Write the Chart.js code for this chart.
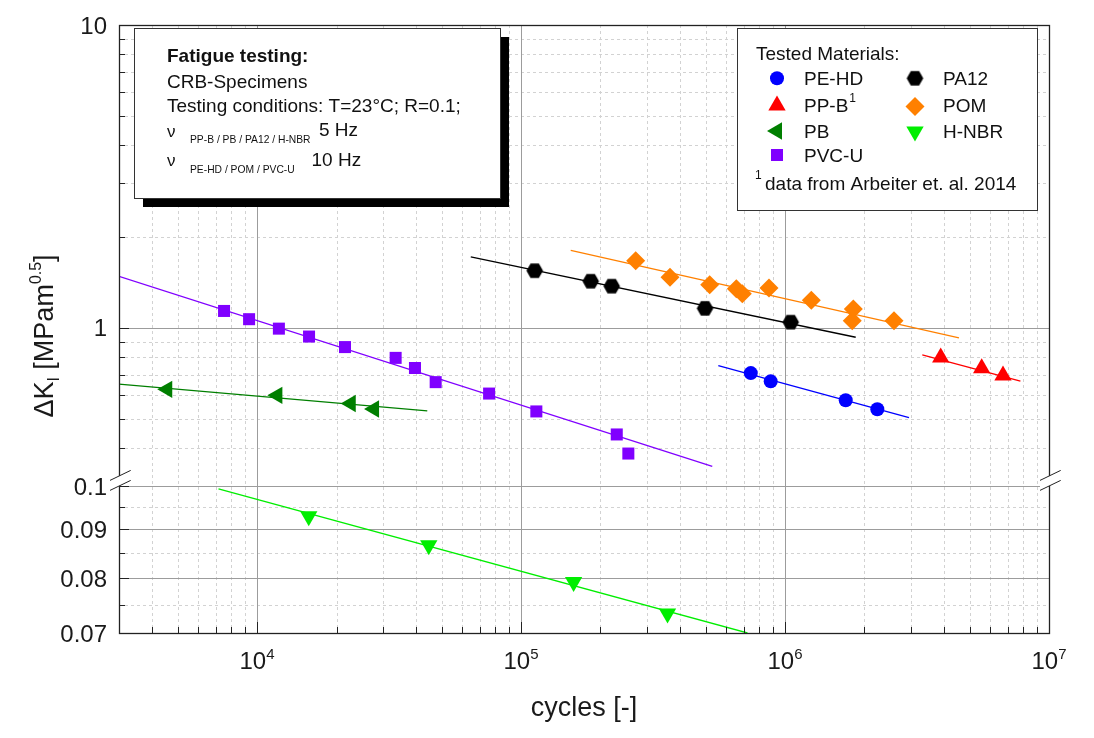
<!DOCTYPE html>
<html>
<head>
<meta charset="utf-8">
<script src="https://cdn.jsdelivr.net/npm/chart.js@4.4.1/dist/chart.umd.min.js"></script>
<style>
  html, body { margin: 0; padding: 0; background: #fff; }
  #wrap { width: 1094px; height: 738px; }
</style>
</head>
<body>
<div id="wrap"><canvas id="fatigue" width="1094" height="738"></canvas></div>
<script>
// measured points: cycles to failure vs. delta K_I
const peHdCycles = [741900, 882600, 1698000, 2237000];
const peHdDK = [0.708, 0.665, 0.576, 0.538];
const ppBCycles = [3889000, 5559000, 6695000];
const ppBDK = [0.797, 0.734, 0.695];
const pbCycles = [4571, 11940, 22650, 27750];
const pbDK = [0.626, 0.598, 0.562, 0.539];
const pvcCycles = [7500, 9330, 12100, 15740, 21540, 33500, 39650, 47500, 75700, 114300, 230500, 255000];
const pvcDK = [1.136, 1.067, 0.993, 0.935, 0.863, 0.795, 0.736, 0.661, 0.606, 0.529, 0.444, 0.384];
const pa12Cycles = [112700, 183700, 220600, 497700, 1051000];
const pa12DK = [1.543, 1.424, 1.372, 1.159, 1.043];
const pomCycles = [271900, 366700, 518500, 654000, 689000, 869700, 1258000, 1814000, 1798000, 2588000];
const pomDK = [1.663, 1.467, 1.387, 1.346, 1.296, 1.352, 1.233, 1.153, 1.054, 1.054];
const hnbrCycles = [15700, 44720, 158200, 358900];
const hnbrDK = [0.0929, 0.0866, 0.0792, 0.0734];

// power-law fit lines (start / end)
const peHdFitCycles = [558900, 2949000];
const peHdFitDK = [0.749, 0.505];
const ppBFitCycles = [3311000, 7794000];
const ppBFitDK = [0.813, 0.666];
const pbFitCycles = [3000, 44150];
const pbFitDK = [0.651, 0.531];
const pvcFitCycles = [3000, 530300];
const pvcFitDK = [1.478, 0.348];
const pa12FitCycles = [64500, 1853000];
const pa12FitDK = [1.713, 0.930];
const pomFitCycles = [154300, 4560000];
const pomFitDK = [1.801, 0.926];
const hnbrFitCycles = [7145, 720500];
const hnbrFitDK = [0.0993, 0.0700];

// axes
const xRange = [3000, 1e7];
const xTickExponents = [4, 5, 6, 7];
const yUpperRange = [0.3186, 10];
const yUpperTicks = [1, 10];
const yUpperTickLabels = ['1', '10'];
const yLowerRange = [0.07, 0.1];
const yLowerTicks = [0.07, 0.08, 0.09, 0.1];
const yLowerTickLabels = ['0.07', '0.08', '0.09', '0.1'];
const yLowerMinor = [0.075, 0.085, 0.095];
const panelWeights = [461, 147]; // upper, lower

const FONT = "'Liberation Sans', Arial, Helvetica, sans-serif";

function hexagon(r, color) {
  const c = document.createElement('canvas');
  const s = Math.ceil(2 * r) + 2;
  c.width = s; c.height = s;
  const g = c.getContext('2d');
  g.fillStyle = color;
  g.beginPath();
  for (let i = 0; i < 6; i++) {
    const t = Math.PI / 3 * i;
    const px = s / 2 + r * Math.cos(t), py = s / 2 + r * Math.sin(t);
    if (i) g.lineTo(px, py); else g.moveTo(px, py);
  }
  g.closePath();
  g.fill();
  return c;
}

const materials = [
  { label: 'PE-HD', x: peHdCycles, y: peHdDK, fx: peHdFitCycles, fy: peHdFitDK, axis: 'yUp', color: '#0000ff', style: 'circle', radius: 7, rot: 0 },
  { label: 'PP-B', x: ppBCycles, y: ppBDK, fx: ppBFitCycles, fy: ppBFitDK, axis: 'yUp', color: '#ff0000', style: 'triangle', radius: 10, rot: 0 },
  { label: 'PB', x: pbCycles, y: pbDK, fx: pbFitCycles, fy: pbFitDK, axis: 'yUp', color: '#007f00', style: 'triangle', radius: 10, rot: -90 },
  { label: 'PVC-U', x: pvcCycles, y: pvcDK, fx: pvcFitCycles, fy: pvcFitDK, axis: 'yUp', color: '#8000ff', style: 'rect', radius: 8.5, rot: 0 },
  { label: 'PA12', x: pa12Cycles, y: pa12DK, fx: pa12FitCycles, fy: pa12FitDK, axis: 'yUp', color: '#000000', style: hexagon(8.3, '#000000'), radius: 8, rot: 0 },
  { label: 'POM', x: pomCycles, y: pomDK, fx: pomFitCycles, fy: pomFitDK, axis: 'yUp', color: '#ff8000', style: 'rectRot', radius: 9.5, rot: 0 },
  { label: 'H-NBR', x: hnbrCycles, y: hnbrDK, fx: hnbrFitCycles, fy: hnbrFitDK, axis: 'yLow', color: '#00ee00', style: 'triangle', radius: 10, rot: 180 }
];

const datasets = [];
materials.forEach(m => {
  datasets.push({
    label: m.label,
    data: m.x.map((v, i) => ({ x: v, y: m.y[i] })),
    yAxisID: m.axis,
    showLine: false,
    pointStyle: m.style,
    pointRadius: m.radius,
    pointRotation: m.rot,
    pointBackgroundColor: m.color,
    pointBorderWidth: 0,
    order: 0
  });
  datasets.push({
    label: m.label + ' fit',
    data: m.fx.map((v, i) => ({ x: v, y: m.fy[i] })),
    yAxisID: m.axis,
    showLine: true,
    borderColor: m.color,
    borderWidth: 1.3,
    pointRadius: 0,
    order: 1
  });
});

const snap = v => Math.round(v) + 0.5;
function seg(ctx, x0, y0, x1, y1) {
  ctx.beginPath(); ctx.moveTo(x0, y0); ctx.lineTo(x1, y1); ctx.stroke();
}
function logMinors(min, max, skip) {
  const out = [];
  for (let e = Math.floor(Math.log10(min)); e <= Math.ceil(Math.log10(max)); e++) {
    for (let m = 1; m <= 9; m++) {
      const v = m * Math.pow(10, e);
      if (v >= min * 0.999 && v <= max * 1.001 && !skip.some(s => Math.abs(s - v) / v < 1e-6)) out.push(v);
    }
  }
  return out;
}
// draws runs of text one after another; returns width
function runs(ctx, parts, x, y, align) {
  let total = 0;
  parts.forEach(p => {
    ctx.font = (p.bold ? 'bold ' : '') + p.size + 'px ' + FONT;
    p.w = ctx.measureText(p.t).width;
    total += p.w;
  });
  let cx = align === 'center' ? x - total / 2 : x;
  ctx.textAlign = 'left';
  ctx.textBaseline = 'alphabetic';
  parts.forEach(p => {
    ctx.font = (p.bold ? 'bold ' : '') + p.size + 'px ' + FONT;
    ctx.fillText(p.t, cx, y + (p.dy || 0));
    cx += p.w;
  });
  return total;
}

const decor = {
  id: 'decor',
  afterLayout(chart) {
    // pin the two stacked value axes to the exact split of the plot height
    const a = chart.chartArea, yU = chart.scales.yUp, yL = chart.scales.yLow;
    const split = a.top + (a.bottom - a.top) * panelWeights[0] / (panelWeights[0] + panelWeights[1]);
    yU.top = a.top; yU.bottom = split; yU.height = split - a.top; yU.configure();
    yL.top = split; yL.bottom = a.bottom; yL.height = a.bottom - split; yL.configure();
  },
  beforeDatasetsDraw(chart) {
    const { ctx, chartArea: a, scales } = chart;
    const xs = scales.x, yU = scales.yUp, yL = scales.yLow;
    const xMajor = xTickExponents.map(e => Math.pow(10, e));
    ctx.save();
    ctx.lineWidth = 1;
    // minor grid
    ctx.strokeStyle = '#d2d2d2';
    ctx.setLineDash([3, 3]);
    logMinors(xRange[0], xRange[1], xMajor).forEach(v => {
      const p = snap(xs.getPixelForValue(v)); seg(ctx, p, a.top, p, a.bottom);
    });
    logMinors(yUpperRange[0], yUpperRange[1], yUpperTicks).forEach(v => {
      const p = snap(yU.getPixelForValue(v)); seg(ctx, a.left, p, a.right, p);
    });
    yLowerMinor.forEach(v => {
      const p = snap(yL.getPixelForValue(v)); seg(ctx, a.left, p, a.right, p);
    });
    // major grid
    ctx.setLineDash([]);
    ctx.strokeStyle = '#9c9c9c';
    xMajor.forEach(v => {
      const p = snap(xs.getPixelForValue(v)); seg(ctx, p, a.top, p, a.bottom);
    });
    yUpperTicks.forEach(v => {
      const p = snap(yU.getPixelForValue(v)); seg(ctx, a.left, p, a.right, p);
    });
    yLowerTicks.forEach(v => {
      const p = snap(yL.getPixelForValue(v)); seg(ctx, a.left, p, a.right, p);
    });
    ctx.restore();
  },
  afterDraw(chart) {
    const { ctx, chartArea: a, scales } = chart;
    const xs = scales.x, yU = scales.yUp, yL = scales.yLow;
    const xMajor = xTickExponents.map(e => Math.pow(10, e));
    ctx.save();
    // frame
    ctx.strokeStyle = '#222';
    ctx.lineWidth = 1.3;
    ctx.strokeRect(snap(a.left), snap(a.top), Math.round(a.right - a.left), Math.round(a.bottom - a.top));
    // inward ticks
    ctx.lineWidth = 1;
    const yTick = (scale, v, len) => { const p = snap(scale.getPixelForValue(v)); seg(ctx, a.left, p, a.left + len, p); };
    yUpperTicks.forEach(v => yTick(yU, v, 10));
    logMinors(yUpperRange[0], yUpperRange[1], yUpperTicks).forEach(v => yTick(yU, v, 6));
    yLowerTicks.forEach(v => yTick(yL, v, 10));
    yLowerMinor.forEach(v => yTick(yL, v, 6));
    xMajor.forEach(v => { const p = snap(xs.getPixelForValue(v)); seg(ctx, p, a.bottom, p, a.bottom - 11); });
    logMinors(xRange[0], xRange[1], xMajor).forEach(v => { const p = snap(xs.getPixelForValue(v)); seg(ctx, p, a.bottom, p, a.bottom - 6); });
    // axis break marks
    const yj = yU.bottom;
    [a.left, a.right].forEach(X => {
      ctx.fillStyle = '#fff';
      ctx.beginPath();
      ctx.moveTo(X - 9, yj + 4.4); ctx.lineTo(X + 11.7, yj - 5.6);
      ctx.lineTo(X + 11.7, yj - 15.6); ctx.lineTo(X - 9, yj - 5.6);
      ctx.closePath(); ctx.fill();
      ctx.strokeStyle = '#222';
      seg(ctx, X - 9, yj + 4.4, X + 11.7, yj - 5.6);
      seg(ctx, X - 9, yj - 5.6, X + 11.7, yj - 15.6);
    });
    // tick labels
    ctx.fillStyle = '#1a1a1a';
    ctx.font = '24px ' + FONT;
    ctx.textAlign = 'right';
    ctx.textBaseline = 'alphabetic';
    yUpperTicks.forEach((v, i) => ctx.fillText(yUpperTickLabels[i], a.left - 12, yU.getPixelForValue(v) + 8.6));
    yLowerTicks.forEach((v, i) => ctx.fillText(yLowerTickLabels[i], a.left - 12, yL.getPixelForValue(v) + 8.6));
    xTickExponents.forEach(e => {
      runs(ctx, [{ t: '10', size: 24 }, { t: String(e), size: 15, dy: -10 }], xs.getPixelForValue(Math.pow(10, e)), 669, 'center');
    });
    // axis titles
    runs(ctx, [{ t: 'cycles [-]', size: 27 }], (a.left + a.right) / 2, 716, 'center');
    ctx.save();
    ctx.translate(53, 336);
    ctx.rotate(-Math.PI / 2);
    runs(ctx, [
      { t: '\u0394K', size: 27 }, { t: 'I', size: 16, dy: 6 }, { t: ' [MPam', size: 27 },
      { t: '0.5', size: 16, dy: -12 }, { t: ']', size: 27 }
    ], 0, 0, 'center');
    ctx.restore();

    // note box with shadow
    ctx.fillStyle = '#000';
    ctx.fillRect(143, 198.5, 366, 8.5);
    ctx.fillRect(500.5, 37, 8.5, 170);
    ctx.fillStyle = '#fff';
    ctx.fillRect(134.5, 28.5, 366, 170);
    ctx.strokeStyle = '#333';
    ctx.lineWidth = 1;
    ctx.strokeRect(134.5, 28.5, 366, 170);
    ctx.fillStyle = '#111';
    runs(ctx, [{ t: 'Fatigue testing:', size: 19, bold: true }], 167, 62);
    runs(ctx, [{ t: 'CRB-Specimens', size: 19 }], 167, 88);
    runs(ctx, [{ t: 'Testing conditions: T=23\u00B0C; R=0.1;', size: 19 }], 167, 112);
    runs(ctx, [{ t: '\u03BD', size: 17 }], 167, 136.5);
    runs(ctx, [{ t: 'PP-B / PB / PA12 / H-NBR', size: 10.3 }], 190, 142.5);
    runs(ctx, [{ t: '5 Hz', size: 19 }], 319, 136);
    runs(ctx, [{ t: '\u03BD', size: 17 }], 167, 166);
    runs(ctx, [{ t: 'PE-HD / POM / PVC-U', size: 10.3 }], 190, 173);
    runs(ctx, [{ t: '10 Hz', size: 19 }], 311.5, 166);

    // legend box
    ctx.fillStyle = '#fff';
    ctx.fillRect(737.5, 28.5, 300, 182);
    ctx.strokeStyle = '#333';
    ctx.strokeRect(737.5, 28.5, 300, 182);
    ctx.fillStyle = '#111';
    runs(ctx, [{ t: 'Tested Materials:', size: 19 }], 756, 60);
    const slots = [
      [777, 804, 78.3, 85], [777, 804, 105.5, 112.3], [777, 804, 131, 137.5], [777, 804, 155, 161.7],
      [915, 943, 78.3, 85], [915, 943, 106.5, 112.3], [915, 943, 131.5, 137.5]
    ];
    const legendOrder = ['PE-HD', 'PP-B', 'PB', 'PVC-U', 'PA12', 'POM', 'H-NBR'];
    legendOrder.forEach((name, i) => {
      const m = materials.find(q => q.label === name);
      const [mx, tx, my, ty] = slots[i];
      ctx.fillStyle = m.color;
      Chart.helpers.drawPoint(ctx, { pointStyle: m.style, radius: m.radius, rotation: m.rot, borderWidth: 0 }, mx, my);
      ctx.fillStyle = '#111';
      const w = runs(ctx, [{ t: name, size: 19 }], tx, ty);
      if (name === 'PP-B') runs(ctx, [{ t: '1', size: 12 }], tx + w + 1, ty - 10);
    });
    runs(ctx, [{ t: '1', size: 12 }], 755, 179);
    runs(ctx, [{ t: 'data from Arbeiter et. al. 2014', size: 19 }], 765, 190);
    ctx.restore();
  }
};

const noSize = { x: s => { s.height = 0; }, y: s => { s.width = 0; } };

new Chart(document.getElementById('fatigue'), {
  type: 'scatter',
  data: { datasets: datasets },
  options: {
    responsive: false,
    animation: false,
    devicePixelRatio: 1,
    layout: { padding: { left: 119, right: 45, top: 25, bottom: 105 } },
    plugins: { legend: { display: false }, tooltip: { enabled: false } },
    scales: {
      x: {
        type: 'logarithmic', min: xRange[0], max: xRange[1], afterFit: noSize.x,
        ticks: { display: false }, grid: { display: false }, border: { display: false }
      },
      yLow: {
        type: 'logarithmic', position: 'left', stack: 'dk', stackWeight: panelWeights[1],
        min: yLowerRange[0], max: yLowerRange[1], afterFit: noSize.y,
        ticks: { display: false }, grid: { display: false }, border: { display: false }
      },
      yUp: {
        type: 'logarithmic', position: 'left', stack: 'dk', stackWeight: panelWeights[0],
        min: yUpperRange[0], max: yUpperRange[1], afterFit: noSize.y,
        ticks: { display: false }, grid: { display: false }, border: { display: false }
      }
    }
  },
  plugins: [decor]
});
</script>
</body>
</html>
